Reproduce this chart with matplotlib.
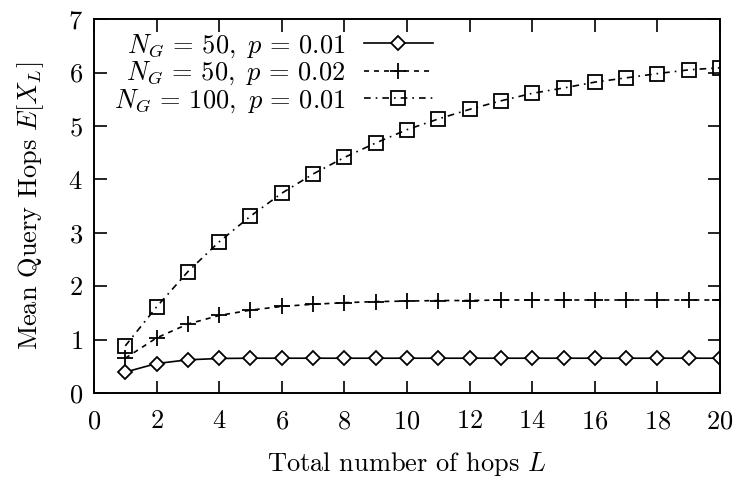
import matplotlib
matplotlib.use("Agg")
import matplotlib.pyplot as plt

# Datos
L = list(range(1, 21))
hops_50_001 = [0.39, 0.55, 0.62, 0.645, 0.65, 0.65, 0.65, 0.65, 0.65, 0.65,
               0.65, 0.65, 0.65, 0.65, 0.65, 0.65, 0.65, 0.65, 0.65, 0.65]
hops_50_002 = [0.65, 1.03, 1.29, 1.45, 1.55, 1.62, 1.66, 1.69, 1.71, 1.72,
               1.73, 1.73, 1.74, 1.74, 1.74, 1.74, 1.74, 1.74, 1.74, 1.74]
hops_100_001 = [0.88, 1.61, 2.27, 2.83, 3.31, 3.74, 4.10, 4.41, 4.68, 4.93,
                5.13, 5.31, 5.47, 5.61, 5.71, 5.82, 5.90, 5.98, 6.05, 6.09]
labels = [r"$N_G \,=\, 50,\ p \,=\, 0.01$",
          r"$N_G \,=\, 50,\ p \,=\, 0.02$",
          r"$N_G \,=\, 100,\ p \,=\, 0.01$"]

plt.rcParams["font.family"] = "serif"
plt.rcParams["font.serif"] = ["cmr10"]
plt.rcParams["mathtext.fontset"] = "cm"
plt.rcParams["axes.formatter.use_mathtext"] = True
plt.rcParams["font.size"] = 19

fig = plt.figure(figsize=(7.34, 4.78), dpi=100)
ax = fig.add_axes([0.128, 0.178, 0.853, 0.782])

ax.plot(L, hops_50_001, color="black", lw=1.2, marker="D", ms=7,
        mfc="white", mec="black", mew=1.3, label=labels[0])
ax.plot(L, hops_50_002, color="black", lw=1.2, ls=(0, (3, 3)), marker="+",
        ms=11, mew=1.3, label=labels[1])
ax.plot(L, hops_100_001, color="black", lw=1.2, ls=(0, (4, 3, 1, 3)),
        marker="s", ms=10, mfc="none", mec="black", mew=1.3, label=labels[2])

ax.set_xlim(0, 20)
ax.set_ylim(0, 7)
ax.set_xticks(range(0, 21, 2))
ax.set_yticks(range(0, 8))
ax.tick_params(direction="in", top=True, right=True, length=9, width=1.2)
ax.tick_params(axis="x", pad=12)
ax.tick_params(axis="y", pad=8)
for s in ax.spines.values():
    s.set_linewidth(1.4)

ax.set_xlabel(r"Total number of hops $L$", labelpad=12)
ax.set_ylabel(r"Mean Query Hops $E[X_L]$", labelpad=16)

ax.legend(loc="upper right", frameon=False, markerfirst=False,
          handlelength=2.6, handletextpad=0.7, labelspacing=0.0,
          borderaxespad=0.1, bbox_to_anchor=(0.562, 1.0))

plt.savefig("out.png", dpi=100)
